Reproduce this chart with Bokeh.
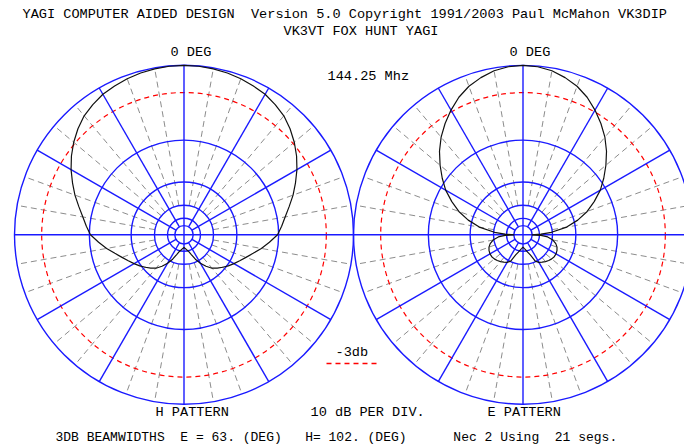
import numpy as np
from bokeh.plotting import figure
from bokeh.models import Range1d
from bokeh.core.properties import value
from bokeh.embed import file_html
from bokeh.resources import INLINE

# ---- radiation pattern data (angle from boresight in degrees, relative gain in dB)
h_angle = [0, 5, 10, 15, 20, 25, 30, 35, 40, 45, 50, 55, 60, 65, 70, 75, 80, 85, 90,
           95, 100, 105, 110, 115, 120, 125, 130, 135, 140, 145, 150, 155, 160, 165,
           170, 175, 180]
h_gain = [0.0, -0.03, -0.1, -0.2, -0.35, -0.55, -0.75, -1.1, -1.5, -2.1, -2.8, -3.6,
          -4.5, -5.5, -6.5, -7.6, -8.6, -9.4, -10.2, -11.7, -13.2, -14.8, -16.2, -17.4,
          -18.5, -19.6, -20.8, -22.0, -23.3, -25.5, -28.2, -31.6, -36.0, -39.5, -41.5,
          -43.2, -44.5]

e_angle = [0, 5, 10, 15, 20, 25, 30, 35, 40, 45, 50, 55, 60, 65, 70, 75, 80, 85, 88,
           90, 92, 95, 100, 105, 110, 115, 120, 125, 130, 135, 140, 145, 150, 155, 160,
           165, 170, 175, 180]
e_gain = [0.0, -0.08, -0.3, -0.7, -1.2, -1.9, -2.8, -3.8, -4.9, -6.2, -7.7, -9.3, -11.0,
          -13.2, -15.6, -18.8, -23.0, -30.5, -38.5, -51.0, -38.5, -33.0, -29.5, -27.6,
          -26.5, -25.9, -25.6, -25.6, -25.9, -26.4, -27.1, -27.9, -28.7, -30.3, -35.5,
          -38.6, -41.2, -43.2, -45.0]

# ---- grid definition
ring_db = [0, -10, -20, -30, -40, -50]
half_power_db = -3
major_spokes = [30, 60, 120, 150, 210, 240, 300, 330]
minor_spokes = [a for a in range(0, 360, 10) if a % 30 != 0]

# ---- page texts
title_1 = "YAGI COMPUTER AIDED DESIGN  Version 5.0 Copyright 1991/2003 Paul McMahon VK3DIP"
title_2 = "VK3VT FOX HUNT YAGI"
freq_label = "144.25 Mhz"
deg_label = "0 DEG"
h_label = "H PATTERN"
e_label = "E PATTERN"
scale_label = "10 dB PER DIV."
ref_label = "-3db"
footer = "3DB BEAMWIDTHS  E = 63. (DEG)   H= 102. (DEG)      Nec 2 Using  21 segs."

W, H = 684, 445
SCALE = 169.5            # pixels per unit radius
CX_PX, CY_PX = 183.5, 234.3
LEFT_C, RIGHT_C = 0.0, 2.0

BLUE = "#1a1aff"
GRAY = "#8c8c8c"
RED = "#ff0000"
FONT = value("Liberation Mono")


def arrl(db):
    """ARRL log-periodic radial scale: 0.89 per 2 dB."""
    return 0.89 ** (-np.asarray(db, dtype=float) / 2.0)


def px(x, y):
    return (x - CX_PX) / SCALE, (CY_PX - y) / SCALE


def polar(cx, ang_deg, r):
    a = np.radians(np.asarray(ang_deg, dtype=float))
    return cx + r * np.sin(a), r * np.cos(a)


def keep_spaces(s):
    # SVG collapses runs of spaces; non-breaking spaces keep the column layout
    return s.replace(" ", "\u00a0")


p = figure(width=W, height=H,
           x_range=Range1d(-CX_PX / SCALE, (W - CX_PX) / SCALE),
           y_range=Range1d(-(H - CY_PX) / SCALE, CY_PX / SCALE),
           output_backend="svg", toolbar_location=None,
           x_axis_location=None, y_axis_location=None,
           min_border=0, outline_line_color=None)
p.grid.visible = False
p.background_fill_color = "white"
p.border_fill_color = "white"

r_inner = float(arrl(ring_db[-1]))
r_gray = float(arrl(-30))

for cx in (LEFT_C, RIGHT_C):
    # minor (10 degree) dashed radials
    xs, ys = [], []
    for a in minor_spokes:
        x, y = polar(cx, [a, a], np.array([r_gray, 1.0]))
        xs.append(list(x)); ys.append(list(y))
    p.multi_line(xs, ys, line_color=GRAY, line_width=1, line_dash="6 4")

    # -3 dB reference circle
    p.circle(x=[cx], y=[0], radius=float(arrl(half_power_db)), fill_color=None,
             line_color=RED, line_width=1.2, line_dash="5 4")

    # dB rings
    p.circle(x=[cx] * len(ring_db), y=[0] * len(ring_db), radius=list(arrl(ring_db)),
             fill_color=None, line_color=BLUE, line_width=1.4)

    # 30 degree spokes
    xs, ys = [], []
    for a in major_spokes:
        x, y = polar(cx, [a, a], np.array([r_inner, 1.0]))
        xs.append(list(x)); ys.append(list(y))
    p.multi_line(xs, ys, line_color=BLUE, line_width=1.4)

    # vertical axis
    p.line([cx, cx], [-1, 1], line_color=BLUE, line_width=1.4)

# horizontal axis across both charts
p.line([-1.0, 3.0], [0, 0], line_color=BLUE, line_width=1.4)


def full_pattern(ang, gain):
    ang = list(ang); gain = list(gain)
    a_full = ang + [360 - a for a in reversed(ang[:-1])]
    g_full = gain + list(reversed(gain[:-1]))
    return np.array(a_full), np.array(g_full)


ha, hg = full_pattern(h_angle, h_gain)
hx, hy = polar(LEFT_C, ha, arrl(hg))
p.line(hx, hy, line_color="#111111", line_width=1.2)

ea, eg = full_pattern(e_angle, e_gain)
ex, ey = polar(RIGHT_C, ea, arrl(eg))
p.line(ex, ey, line_color="#111111", line_width=1.2)

# legend swatch for the -3 dB circle
lx0, ly0 = px(326, 363)
lx1, ly1 = px(377, 363)
p.line([lx0, lx1], [ly0, ly1], line_color=RED, line_width=1.5, line_dash="5 4")

labels = [
    (title_1, 22, 14, "13.6px"),
    (title_2, 283, 31, "13.6px"),
    (deg_label, 170, 52, "13.6px"),
    (deg_label, 509, 52, "13.6px"),
    (freq_label, 327, 76, "13.6px"),
    (ref_label, 335, 352, "13.6px"),
    (h_label, 155, 412, "13.6px"),
    (scale_label, 310, 412, "13.6px"),
    (e_label, 487, 412, "13.6px"),
    (footer, 55, 437, "13px"),
]
for txt, x0, y0, fs in labels:
    tx, ty = px(x0, y0)
    p.text(x=[tx], y=[ty], text=[keep_spaces(txt)], text_font=FONT, text_font_size=fs,
           text_color="black", text_align="left", text_baseline="middle")

open("out.html", "w").write(file_html(p, INLINE))
